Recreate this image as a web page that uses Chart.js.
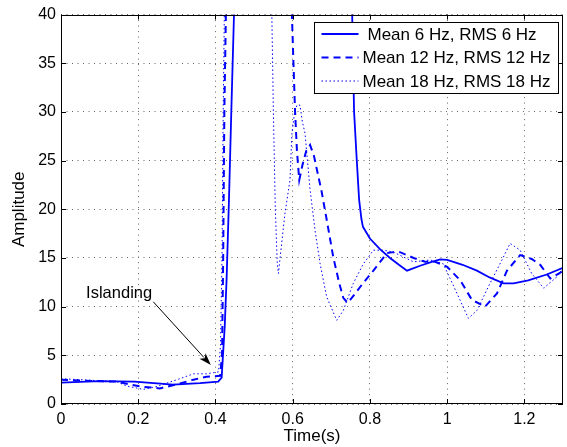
<!DOCTYPE html>
<html>
<head>
<meta charset="utf-8">
<title>Amplitude vs time</title>
<script src="https://cdn.jsdelivr.net/npm/chart.js@4"></script>
<style>
  html, body { margin: 0; padding: 0; background: #fff; }
  #wrap { width: 567px; height: 447px; }
</style>
</head>
<body>
<div id="wrap"><canvas id="chart"></canvas></div>
<script>
// tick labels
const xTicks = [0, 0.2, 0.4, 0.6, 0.8, 1, 1.2];
const yTicks = [0, 5, 10, 15, 20, 25, 30, 35, 40];

// series labels
const seriesLabels = ['Mean 6 Hz, RMS 6 Hz', 'Mean 12 Hz, RMS 12 Hz', 'Mean 18 Hz, RMS 18 Hz'];

// Mean 6 Hz, RMS 6 Hz (solid)
const t6 = [0, 0.1, 0.19, 0.29, 0.36, 0.407, 0.416, 0.424, 0.429, 0.435, 0.441, 0.448, 0.46,
  0.74, 0.754, 0.759, 0.766, 0.772, 0.778, 0.782, 0.8, 0.826, 0.852, 0.875, 0.896, 0.93, 0.96,
  0.982, 1.0, 1.04, 1.077, 1.11, 1.146, 1.172, 1.21, 1.258, 1.3];
const a6 = [2.2, 2.35, 2.3, 2.0, 2.15, 2.3, 2.7, 8, 13, 21, 30, 40, 48,
  48, 40, 30, 25, 21, 19, 18.2, 17, 15.9, 15.0, 14.3, 13.7, 14.2, 14.6,
  14.85, 14.8, 14.3, 13.7, 13.0, 12.4, 12.4, 12.7, 13.3, 14.0];

// Mean 12 Hz, RMS 12 Hz (dashed)
const t12 = [0, 0.05, 0.144, 0.205, 0.256, 0.308, 0.343, 0.377, 0.412, 0.417, 0.42, 0.423, 0.427, 0.44,
  0.585, 0.598, 0.602, 0.606, 0.611, 0.617, 0.625, 0.635, 0.645, 0.655, 0.675, 0.69, 0.705, 0.72,
  0.731, 0.742, 0.753, 0.78, 0.809, 0.844, 0.861, 0.878, 0.913, 0.943, 0.969, 1.0, 1.034, 1.064,
  1.098, 1.129, 1.155, 1.189, 1.219, 1.241, 1.267, 1.293, 1.3];
const a12 = [2.5, 2.4, 2.3, 1.8, 1.6, 2.1, 2.5, 2.8, 2.9, 5, 15, 30, 40, 48,
  48, 40, 35, 30.2, 26, 23, 24.5, 26, 26.6, 25.5, 21.8, 18.5, 15.1, 12.5,
  10.9, 10.4, 10.9, 12.3, 13.7, 15.5, 15.6, 15.6, 15.0, 14.6, 14.6, 14.1, 12.7, 10.7,
  10.0, 11.35, 13.7, 15.3, 14.9, 14.3, 12.9, 13.5, 13.7];

// Mean 18 Hz, RMS 18 Hz (dotted)
const t18 = [0, 0.144, 0.17, 0.213, 0.248, 0.308, 0.343, 0.377, 0.408, 0.413, 0.417, 0.42, 0.423, 0.43,
  0.54, 0.546, 0.55, 0.555, 0.56, 0.563, 0.58, 0.593, 0.598, 0.605, 0.611, 0.619, 0.625, 0.632,
  0.645, 0.658, 0.671, 0.688, 0.714, 0.731, 0.757, 0.783, 0.809, 0.835, 0.861, 0.913, 0.956, 0.99,
  1.025, 1.055, 1.077, 1.111, 1.142, 1.163, 1.189, 1.219, 1.25, 1.284, 1.3];
const a18 = [2.6, 2.3, 1.85, 1.5, 1.8, 2.6, 3.1, 3.1, 3.3, 6, 15, 30, 40, 48,
  48, 40, 30, 20, 14.5, 13.4, 19.6, 23, 27.8, 30, 30.7, 30.7, 29, 27.8,
  22, 17.8, 14.4, 11, 8.6, 9.6, 12.4, 14.4, 15.8, 15.8, 15.6, 14.6, 14.8, 14.4,
  11.4, 8.8, 9.6, 12.4, 14.8, 16.5, 15.8, 13.4, 11.9, 13.05, 13.9];

// annotation (data coordinates)
const noteText = 'Islanding';
const notePos = { x: 0.065, y: 11.4 };
const arrowFrom = { x: 0.239, y: 10.5 };
const arrowTo = { x: 0.388, y: 4.0 };

const FONT = '"Liberation Sans", Arial, Helvetica, sans-serif';
const BLUE = '#0000ff';

function toPoints(xs, ys) {
    return xs.map((x, i) => ({ x: x, y: ys[i] }));
}

// frame, inward ticks, legend box and annotation, MATLAB style
const matlabPlugin = {
    id: 'matlabAxes',
    afterDraw(chart) {
        const ctx = chart.ctx;
        const area = chart.chartArea;
        const xs = chart.scales.x;
        const ys = chart.scales.y;

        ctx.save();
        ctx.strokeStyle = '#000';
        ctx.lineWidth = 1;
        ctx.setLineDash([]);
        ctx.strokeRect(Math.round(area.left) + 0.5, Math.round(area.top) + 0.5,
            Math.round(area.right - area.left) - 1, Math.round(area.bottom - area.top) - 1);

        // inward tick marks
        const tl = 5;
        ctx.beginPath();
        xTicks.forEach(v => {
            const px = Math.round(xs.getPixelForValue(v)) + 0.5;
            ctx.moveTo(px, area.bottom); ctx.lineTo(px, area.bottom - tl);
            ctx.moveTo(px, area.top); ctx.lineTo(px, area.top + tl);
        });
        yTicks.forEach(v => {
            const py = Math.round(ys.getPixelForValue(v)) + 0.5;
            ctx.moveTo(area.left, py); ctx.lineTo(area.left + tl, py);
            ctx.moveTo(area.right, py); ctx.lineTo(area.right - tl, py);
        });
        ctx.stroke();

        // annotation
        ctx.fillStyle = '#000';
        ctx.font = '16.5px ' + FONT;
        ctx.textBaseline = 'middle';
        ctx.textAlign = 'left';
        ctx.fillText(noteText, xs.getPixelForValue(notePos.x), ys.getPixelForValue(notePos.y));

        const x1 = xs.getPixelForValue(arrowFrom.x), y1 = ys.getPixelForValue(arrowFrom.y);
        const x2 = xs.getPixelForValue(arrowTo.x), y2 = ys.getPixelForValue(arrowTo.y);
        const ang = Math.atan2(y2 - y1, x2 - x1);
        const hl = 13, hw = 0.32;
        ctx.beginPath();
        ctx.moveTo(x1, y1);
        ctx.lineTo(x2 - hl * 0.8 * Math.cos(ang), y2 - hl * 0.8 * Math.sin(ang));
        ctx.stroke();
        ctx.beginPath();
        ctx.moveTo(x2, y2);
        ctx.lineTo(x2 - hl * Math.cos(ang - hw), y2 - hl * Math.sin(ang - hw));
        ctx.lineTo(x2 - hl * 0.7 * Math.cos(ang), y2 - hl * 0.7 * Math.sin(ang));
        ctx.lineTo(x2 - hl * Math.cos(ang + hw), y2 - hl * Math.sin(ang + hw));
        ctx.closePath();
        ctx.fill();

        // legend box
        const boxW = 244, boxH = 71;
        const bx = Math.round(area.right - 5 - boxW) + 0.5;
        const by = Math.round(area.top + 7) + 0.5;
        ctx.fillStyle = '#fff';
        ctx.fillRect(bx, by, boxW, boxH);
        ctx.strokeStyle = '#000';
        ctx.strokeRect(bx, by, boxW, boxH);

        ctx.font = '17px ' + FONT;
        chart.data.datasets.forEach((ds, i) => {
            const rowY = by + 11.5 + i * 23.5;
            ctx.strokeStyle = ds.borderColor;
            ctx.lineWidth = ds.borderWidth;
            ctx.setLineDash(ds.borderDash || []);
            ctx.beginPath();
            ctx.moveTo(bx + 7, rowY);
            ctx.lineTo(bx + 44, rowY);
            ctx.stroke();
            ctx.setLineDash([]);
            ctx.fillStyle = '#000';
            ctx.fillText(ds.label, bx + (i === 0 ? 53 : 48), rowY + 1);
        });
        ctx.restore();
    }
};

const ctx = document.getElementById('chart').getContext('2d');

new Chart(ctx, {
    type: 'line',
    data: {
        datasets: [
            {
                label: seriesLabels[0],
                data: toPoints(t6, a6),
                borderColor: BLUE,
                borderWidth: 1.8,
                borderDash: [],
                pointRadius: 0,
                tension: 0,
                fill: false
            },
            {
                label: seriesLabels[1],
                data: toPoints(t12, a12),
                borderColor: BLUE,
                borderWidth: 2,
                borderDash: [7, 5],
                pointRadius: 0,
                tension: 0,
                fill: false
            },
            {
                label: seriesLabels[2],
                data: toPoints(t18, a18),
                borderColor: BLUE,
                borderWidth: 1,
                borderDash: [1.5, 2.5],
                pointRadius: 0,
                tension: 0,
                fill: false
            }
        ]
    },
    options: {
        responsive: true,
        maintainAspectRatio: false,
        animation: false,
        layout: { padding: { top: 14, right: 4, left: 0, bottom: 0 } },
        plugins: {
            legend: { display: false },
            tooltip: { enabled: false }
        },
        scales: {
            x: {
                type: 'linear',
                min: 0,
                max: 1.3,
                afterBuildTicks: scale => { scale.ticks = xTicks.map(v => ({ value: v })); },
                afterFit: scale => { scale.height = 43; },
                ticks: {
                    color: '#000',
                    font: { family: FONT, size: 16 },
                    padding: 6,
                    maxRotation: 0,
                    callback: v => String(v)
                },
                grid: { color: '#666', drawTicks: false, lineWidth: 1 },
                border: { display: false, dash: [1, 4.5] },
                title: {
                    display: true,
                    text: 'Time(s)',
                    color: '#000',
                    font: { family: FONT, size: 17 },
                    padding: { top: 0, bottom: 0 }
                }
            },
            y: {
                type: 'linear',
                min: 0,
                max: 40,
                afterBuildTicks: scale => { scale.ticks = yTicks.map(v => ({ value: v })); },
                afterFit: scale => { scale.width = 61; },
                ticks: {
                    color: '#000',
                    font: { family: FONT, size: 16 },
                    padding: 5
                },
                grid: { color: '#666', drawTicks: false, lineWidth: 1 },
                border: { display: false, dash: [1, 4.5] },
                title: {
                    display: true,
                    text: 'Amplitude',
                    color: '#000',
                    font: { family: FONT, size: 17 },
                    padding: { top: 9, bottom: 0 }
                }
            }
        }
    },
    plugins: [matlabPlugin]
});
</script>
</body>
</html>
